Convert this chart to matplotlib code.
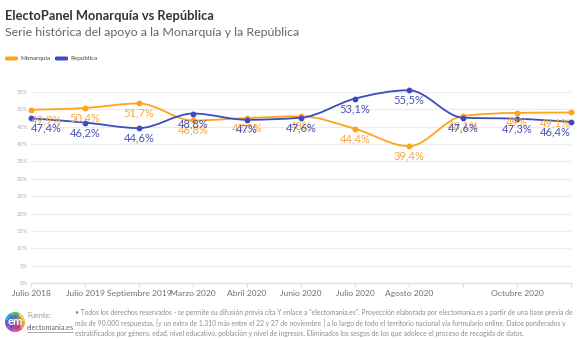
import matplotlib
matplotlib.use("Agg")
import matplotlib.pyplot as plt
import numpy as np
from matplotlib.path import Path
from matplotlib.patches import PathPatch, FancyBboxPatch, Wedge, Circle

plt.rcParams['font.family'] = ['Lato', 'DejaVu Sans']

# ---- data ----
categories = ["Julio 2018", "Julio 2019", "Septiembre 2019", "Marzo 2020", "Abril 2020",
              "Junio 2020", "Julio 2020", "Agosto 2020", "Septiembre 2020", "Octubre 2020",
              "Noviembre 2020"]
tick_labels = ["Julio 2018", "Julio 2019", "Septiembre 2019", "Marzo 2020", "Abril 2020",
               "Junio 2020", "Julio 2020", "Agosto 2020", "", "Octubre 2020", ""]
monarquia = [49.9, 50.4, 51.7, 46.8, 47.5, 48.0, 44.4, 39.4, 48.1, 49.0, 49.1]
republica = [47.4, 46.2, 44.6, 48.8, 47.0, 47.6, 53.1, 55.5, 47.6, 47.3, 46.4]
y_ticks = [0, 5, 10, 15, 20, 25, 30, 35, 40, 45, 50, 55]

title = "ElectoPanel Monarquía vs República"
subtitle = "Serie histórica del apoyo a la Monarquía y la República"
series_names = ["Monarquía", "República"]
footnote = ("• Todos los derechos reservados - se permite su difusión previa cita Y enlace a \"electomania.es\". "
            "Proyección elaborada por electomania.es a partir de una base previa de\n"
            "más de 90.000 respuestas, [y un extra de 1.310 más entre el 22 y 27 de noviembre ] a lo largo de todo "
            "el territorio nacional vía formulario online. Datos ponderados y\n"
            "estratificados por género, edad, nivel educativo, población y nivel de ingresos. "
            "Eliminados los sesgos de los que adolece el proceso de recogida de datos.")

ORANGE = "#FFA31A"
BLUE = "#3D4BBE"
ORANGE_T = "#F9A73E"
BLUE_T = "#4752B5"


def monotone_path(xs, ys):
    xs = np.asarray(xs, float)
    ys = np.asarray(ys, float)
    n = len(xs)
    h = np.diff(xs)
    s = np.diff(ys) / h
    t = np.zeros(n)
    for i in range(1, n - 1):
        s0, s1 = s[i - 1], s[i]
        p = (s0 * h[i] + s1 * h[i - 1]) / (h[i - 1] + h[i])
        t[i] = (np.sign(s0) + np.sign(s1)) * min(abs(s0), abs(s1), 0.5 * abs(p))
    t[0] = (3 * s[0] - t[1]) / 2
    t[-1] = (3 * s[-1] - t[-2]) / 2
    verts = [(xs[0], ys[0])]
    codes = [Path.MOVETO]
    for i in range(n - 1):
        dx = (xs[i + 1] - xs[i]) / 3
        verts += [(xs[i] + dx, ys[i] + dx * t[i]),
                  (xs[i + 1] - dx, ys[i + 1] - dx * t[i + 1]),
                  (xs[i + 1], ys[i + 1])]
        codes += [Path.CURVE4] * 3
    return Path(verts, codes)


fig = plt.figure(figsize=(5.8, 3.4), dpi=100)
fig.patch.set_facecolor("white")
ax = fig.add_axes([31 / 580, 1 - 283 / 340, 540 / 580, (283 - 92) / 340])

x = np.arange(len(categories))
ax.set_xlim(0, len(categories) - 1)
ax.set_ylim(0, 55)

for yv in y_ticks:
    ax.axhline(yv, color="#ececec", lw=0.9, zorder=0)

for vals, col in [(monarquia, ORANGE), (republica, BLUE)]:
    ax.add_patch(PathPatch(monotone_path(x, vals), fill=False, edgecolor=col, lw=1.3,
                           zorder=3, clip_on=False))
    ax.plot(x, vals, "o", color=col, ms=3.2, zorder=4, clip_on=False)

n = len(categories)
for vals, col in [(monarquia, ORANGE_T), (republica, BLUE_T)]:
    for xi, v in zip(x, vals):
        lab = f"{v:.1f}".replace(".", ",").replace(",0", "") + "%"
        ha = "left" if xi == 0 else ("right" if xi == n - 1 else "center")
        ax.annotate(lab, (xi, v), xytext=(0, -3.2), textcoords="offset points",
                    ha=ha, va="top", fontsize=8.0, color=col, zorder=5,
                    annotation_clip=False)

ax.set_yticks(y_ticks)
ax.set_yticklabels([f"{v}%" for v in y_ticks], fontsize=4.2, color="#b0b0b0")
ax.set_xticks(x)
ax.set_xticklabels(tick_labels, fontsize=6.1, color="#707070")
ax.tick_params(axis="y", length=0, pad=2)
ax.tick_params(axis="x", length=3, color="#dddddd", pad=2)
for sp in ["top", "right", "left"]:
    ax.spines[sp].set_visible(False)
ax.spines["bottom"].set_color("#dddddd")
ax.spines["bottom"].set_linewidth(0.8)

# titles
fig.text(5 / 580, 1 - 16 / 340, title, fontsize=9.3, fontweight="bold", color="#333333",
         va="center", ha="left")
fig.text(5 / 580, 1 - 33 / 340, subtitle, fontsize=8.95, color="#666666", va="center", ha="left")

# legend
for i, (name, col) in enumerate(zip(series_names, [ORANGE, BLUE])):
    x0 = [5, 55][i]
    fig.patches.append(FancyBboxPatch((x0 / 580, 1 - 60.5 / 340), 13 / 580, 4 / 340,
                                      boxstyle="round,pad=0,rounding_size=0.003",
                                      transform=fig.transFigure, facecolor=col, edgecolor="none"))
    fig.text((x0 + 15) / 580, 1 - 58.5 / 340, name, fontsize=4.5, color="#444444",
             va="center", ha="left")

# logo
lax = fig.add_axes([5 / 580, 1 - 332 / 340, 20 / 580, 20 / 340])
lax.set_xlim(-1, 1)
lax.set_ylim(-1, 1)
lax.set_aspect("equal")
lax.axis("off")
logo_cols = ["#4CC46A", "#2FA8E0", "#5B5FD6", "#B44AC8", "#E8487F", "#F39C3D", "#E9D24A"]
for k, c in enumerate(logo_cols):
    lax.add_patch(Wedge((0, 0), 1, k * 360 / len(logo_cols) + 60, (k + 1) * 360 / len(logo_cols) + 60,
                        facecolor=c, edgecolor="none"))
lax.add_patch(Circle((0, 0), 0.72, facecolor="#6E3FA8", edgecolor="none", alpha=0.55))
lax.text(0, 0.05, "em", ha="center", va="center", color="white", fontsize=8, fontweight="bold")

fig.text(27 / 580, 1 - 315 / 340, "Fuente:", fontsize=5.2, color="#999999", va="center", ha="left")
fig.text(27 / 580, 1 - 327.5 / 340, "electomania.es", fontsize=5.2, color="#666666",
         va="center", ha="left")
fig.add_artist(plt.Line2D([27 / 580, 73 / 580], [1 - 331.5 / 340, 1 - 331.5 / 340],
                          color="#888888", lw=0.5, transform=fig.transFigure))
fig.text(75 / 580, 1 - 309 / 340, footnote, fontsize=4.85, color="#8c8c8c", va="top", ha="left",
         linespacing=1.45)

fig.savefig("out.png", dpi=100, facecolor="white")
